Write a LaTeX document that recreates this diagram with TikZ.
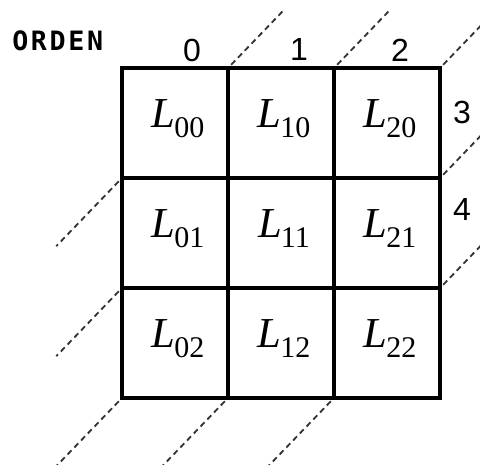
\documentclass[tikz,border=0pt]{standalone}
\usepackage{fontspec}
\setmainfont{Liberation Serif}
\newfontfamily\numfont{Liberation Sans}
\newfontfamily\ordfont[LetterSpace=10]{DejaVu Sans Mono}
\usetikzlibrary{calc}
\newcommand{\cellL}[1]{{\fontsize{32}{36}\selectfont\itshape L}\kern-0.07em\raisebox{-7.5pt}{\fontsize{22.5}{26}\selectfont #1}}
\begin{document}
\begin{tikzpicture}[x=0.75pt,y=-0.75pt,
  gridline/.style={line width=3pt, line join=miter, line cap=rect},
  diagline/.style={line width=1.35pt, black!80, dash pattern=on 4.3pt off 3pt},
  cellnode/.style={inner sep=0pt, anchor=base},
  numnode/.style={inner sep=0pt, font=\numfont\fontsize{24}{28}\selectfont},
  ordnode/.style={inner sep=0pt, anchor=base west, font=\ordfont\bfseries\fontsize{20}{24}\selectfont}]
\useasboundingbox (0,0) rectangle (480,465);
\foreach \i in {0,...,3}
  \foreach \j in {0,...,3}
    \coordinate (c\i\j) at ({122+106*\i},{68+110*\j});
% dashed diagonals
\begin{scope}
\clip (0,0) rectangle (480,465);
\foreach \u/\d in {c10/c01, c20/c02, c30/c03, c31/c13, c32/c23} {
  \draw[diagline] ($(\u)+0.03*(106,-110)$) -- ($(\u)+0.53*(106,-110)$);
  \draw[diagline] ($(\d)-0.03*(106,-110)$) -- ($(\d)-0.62*(106,-110)$);
}
\end{scope}
% grid
\draw[gridline] (c00) rectangle (c33);
\draw[gridline] (c10) -- (c13);
\draw[gridline] (c20) -- (c23);
\draw[gridline] (c01) -- (c31);
\draw[gridline] (c02) -- (c32);
% cell labels
\foreach \i in {0,1,2}
  \foreach \j in {0,1,2}
    \node[cellnode] (L\i\j) at ({178+106*\i},{127+110*\j}) {\cellL{\i\j}};
% order numbers
\node[numnode] (n0) at (192,50) {0};
\node[numnode] (n1) at (299,49) {1};
\node[numnode] (n2) at (400,50) {2};
\node[numnode] (n3) at (462,112) {3};
\node[numnode] (n4) at (462,209) {4};
\node[ordnode] (orden) at (12,50) {ORDEN};
\end{tikzpicture}
\end{document}
